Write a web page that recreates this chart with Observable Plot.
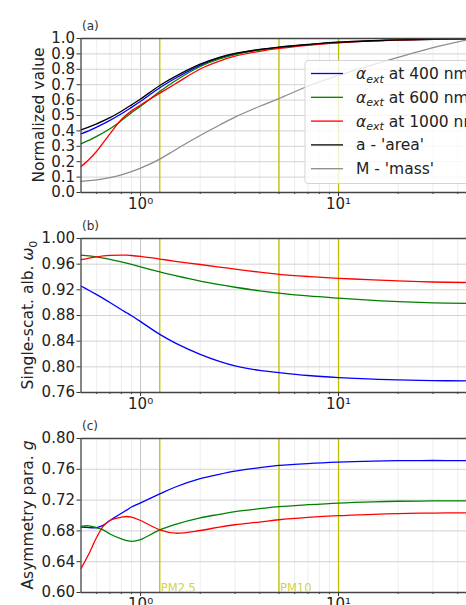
<!DOCTYPE html>
<html><head><meta charset="utf-8">
<script src="https://cdn.jsdelivr.net/npm/d3@7"></script>
<script src="https://cdn.jsdelivr.net/npm/@observablehq/plot@0.6"></script>
<style>
body{margin:0;background:#fff;font-family:"DejaVu Sans",sans-serif;}
#chart svg{display:block;}
</style></head><body><div id="chart"></div>
<script>
// ---- data ----
const xA = [0.5,0.55,0.6,0.7,0.8,0.9,1,1.25,1.5,2,2.5,3,4,5,7,10,15,20,30,44.3];
const aBlue  = [0.381,0.402,0.424,0.468,0.511,0.553,0.592,0.680,0.742,0.826,0.872,0.900,0.928,0.943,0.960,0.975,0.985,0.990,0.995,0.998];
const aGreen = [0.316,0.340,0.364,0.414,0.467,0.518,0.561,0.656,0.726,0.818,0.867,0.896,0.925,0.941,0.959,0.974,0.985,0.990,0.995,0.998];
const aRed   = [0.168,0.216,0.268,0.381,0.474,0.530,0.568,0.645,0.706,0.802,0.853,0.885,0.917,0.936,0.956,0.972,0.984,0.990,0.995,0.998];
const aBlack = [0.407,0.426,0.446,0.486,0.528,0.569,0.607,0.695,0.754,0.833,0.877,0.903,0.929,0.944,0.961,0.976,0.986,0.991,0.996,0.999];
const aGrey  = [0.072,0.077,0.082,0.097,0.115,0.136,0.158,0.217,0.278,0.370,0.437,0.490,0.560,0.610,0.690,0.760,0.830,0.877,0.940,0.990];

const xBC = [0.5,0.55,0.6,0.65,0.7,0.8,0.85,0.9,1,1.25,1.5,2,2.5,3,4,5,7,10,15,20,30,44.3];
const bBlue  = [0.926,0.919,0.9125,0.9063,0.9003,0.889,0.8843,0.8797,0.8705,0.8505,0.837,0.8195,0.8085,0.8015,0.7945,0.791,0.7865,0.7833,0.7808,0.7797,0.7786,0.778];
const bGreen = [0.974,0.9729,0.9714,0.9695,0.9675,0.9636,0.9617,0.9597,0.9558,0.948,0.942,0.9335,0.928,0.924,0.9185,0.915,0.9105,0.907,0.9035,0.9015,0.8998,0.899];
const bRed   = [0.967,0.9695,0.9715,0.973,0.9738,0.9742,0.974,0.9735,0.972,0.968,0.9645,0.9595,0.9555,0.9522,0.9475,0.9442,0.9408,0.938,0.9355,0.934,0.9322,0.9314];

const cBlue  = [0.6848,0.6842,0.6843,0.6875,0.6935,0.703,0.707,0.711,0.7165,0.728,0.737,0.7478,0.7535,0.7575,0.7622,0.765,0.7675,0.7693,0.7706,0.7712,0.7714,0.7713];
const cGreen = [0.686,0.6866,0.684,0.681,0.676,0.6696,0.6675,0.6665,0.6687,0.6813,0.6885,0.697,0.7015,0.705,0.7088,0.7115,0.714,0.7162,0.7178,0.7185,0.7189,0.719];
const cRed   = [0.631,0.651,0.6717,0.6865,0.6935,0.6978,0.6987,0.6978,0.6935,0.6813,0.677,0.6805,0.685,0.688,0.6915,0.6945,0.6975,0.6998,0.7015,0.7025,0.7032,0.7035];

const seriesColors = ["#0000ff","#008000","#ff0000","#000000","#8c8c8c"];
const legendLabels = [
  ["α","ext"," at 400 nm"],
  ["α","ext"," at 600 nm"],
  ["α","ext"," at 1000 nm"],
  ["","","a - 'area'"],
  ["","","M - 'mass'"]
];
const pmLines = [1.25, 5, 10];
const pmText = [{x:1.25, label:"PM2.5"}, {x:5, label:"PM10"}];
const majorX = [1, 10];
const minorX = [0.6,0.7,0.8,0.9,2,3,4,5,6,7,8,9,20,30,40];
const xDomain = [0.5, 44.3];
const yTicksA = [0,0.1,0.2,0.3,0.4,0.5,0.6,0.7,0.8,0.9,1.0];
const yTicksB = [0.76,0.80,0.84,0.88,0.92,0.96,1.00];
const yTicksC = [0.60,0.64,0.68,0.72,0.76,0.80];
const panelTitles = ["(a)","(b)","(c)"];

// ---- helpers ----
const tidy = (xs, ys) => xs.map((x, i) => ({x, y: ys[i]}));
const sup = {1:"10⁰", 10:"10¹"};
const FONT = "DejaVu Sans";
const FS = 15;

function panel(o) {
  const marks = [
    Plot.gridX(minorX, {stroke:"#e9e9e9", strokeOpacity:1, strokeWidth:0.8}),
    Plot.gridX(majorX, {stroke:"#c4c4c4", strokeOpacity:1, strokeWidth:1}),
    Plot.gridY(o.yTicks, {stroke:"#d2d2d2", strokeOpacity:1, strokeWidth:1}),
    Plot.ruleX(pmLines, {stroke:"#bfbf00", strokeWidth:1.3}),
    ...o.series.map((ys, i) => Plot.line(tidy(o.xs, ys), {x:"x", y:"y", stroke: seriesColors[i], strokeWidth:1.3, curve:"catmull-rom", clip:true})),
    Plot.axisX(majorX, {tickSize:4, tickPadding:2, tickFormat: d => sup[d], label:null, stroke:"#333", fill:"#222"}),
    Plot.axisX(minorX, {tickSize:2, tickFormat: () => "", label:null, stroke:"#333"}),
    Plot.axisY(o.yTicks, {tickSize:4, tickPadding:2, tickFormat: o.fmt, label:null, stroke:"#333", fill:"#222"}),
    Plot.ruleY([o.yDomain[0], o.yDomain[1]], {stroke:"#444", strokeWidth:1.3}),
    Plot.ruleX([xDomain[0]], {stroke:"#444", strokeWidth:1.3})
  ];
  if (o.pm) marks.push(Plot.text(pmText, {x:"x", y: () => o.yDomain[0], text:"label", textAnchor:"start", lineAnchor:"bottom", dx:1, dy:-1, fill:"#d2d24c", fontSize:11.5}));
  const svg = Plot.plot({
    width: 466, height: o.height,
    marginLeft: 80.5, marginRight: 0, marginTop: o.mt, marginBottom: o.mb,
    style: {fontFamily: FONT, fontSize: FS + "px", color:"#222", background:"#fff", overflow:"hidden"},
    x: {type:"log", domain: xDomain, label:null},
    y: {domain: o.yDomain, label:null},
    marks
  });
  const s = d3.select(svg);
  // panel title
  s.append("text").attr("x", 82).attr("y", o.mt - 8).attr("text-anchor", "start").attr("font-size", 12).attr("fill", "#333").attr("font-family", FONT).text(o.title);
  // y label
  const cy = o.mt + (o.height - o.mt - o.mb) / 2;
  const t = s.append("text").attr("transform", `translate(${o.labelX},${cy}) rotate(-90)`).attr("text-anchor","middle")
    .attr("font-size", 15.5).attr("font-family", FONT).attr("fill", "#222");
  o.ylabel(t);
  return svg;
}

const chart = document.getElementById("chart");

// Panel (a)
const svgA = panel({
  height: 220, mt: 38, mb: 28, xs: xA, series: [aBlue, aGreen, aRed, aBlack, aGrey],
  yDomain: [0, 1], yTicks: yTicksA, fmt: d3.format(".1f"), title: panelTitles[0], labelX: 43.5,
  ylabel: t => t.text("Normalized value")
});
{
  const s = d3.select(svgA);
  const g = s.append("g").attr("font-family", FONT).attr("font-size", 15.5).attr("text-anchor", "start");
  g.append("rect").attr("x", 305).attr("y", 60.5).attr("width", 200).attr("height", 123).attr("rx", 3)
    .attr("fill", "#fff").attr("fill-opacity", 0.8).attr("stroke", "#d5d5d5");
  legendLabels.forEach((lab, i) => {
    const y = 73.5 + i * 23.8;
    g.append("line").attr("x1", 311).attr("x2", 343).attr("y1", y).attr("y2", y).attr("stroke", seriesColors[i]).attr("stroke-width", 1.3);
    const tx = g.append("text").attr("x", 356).attr("y", y).attr("dy", "0.36em").attr("fill", "#222").attr("text-anchor", "start");
    if (lab[0]) {
      tx.append("tspan").attr("font-style", "italic").text(lab[0]);
      tx.append("tspan").attr("font-style", "italic").attr("font-size", 11).attr("dy", 3.5).text(lab[1]);
      tx.append("tspan").attr("dy", -3.5).text(lab[2]);
    } else {
      tx.text(lab[2]);
    }
  });
}
chart.appendChild(svgA);

// Panel (b)
const svgB = panel({
  height: 200, mt: 18, mb: 28, xs: xBC, series: [bBlue, bGreen, bRed],
  yDomain: [0.76, 1.0], yTicks: yTicksB, fmt: d3.format(".2f"), title: panelTitles[1], labelX: 33,
  ylabel: t => {
    t.append("tspan").text("Single-scat. alb. ");
    t.append("tspan").attr("font-style","italic").text("ω");
    t.append("tspan").attr("font-size", 11).attr("dy", 3.5).text("0");
  }
});
chart.appendChild(svgB);

// Panel (c)
const svgC = panel({
  height: 185, mt: 18, mb: 13, xs: xBC, series: [cBlue, cGreen, cRed], pm: true,
  yDomain: [0.60, 0.80], yTicks: yTicksC, fmt: d3.format(".2f"), title: panelTitles[2], labelX: 33,
  ylabel: t => {
    t.append("tspan").text("Asymmetry para. ");
    t.append("tspan").attr("font-style","italic").text("g");
  }
});
chart.appendChild(svgC);
</script></body></html>
